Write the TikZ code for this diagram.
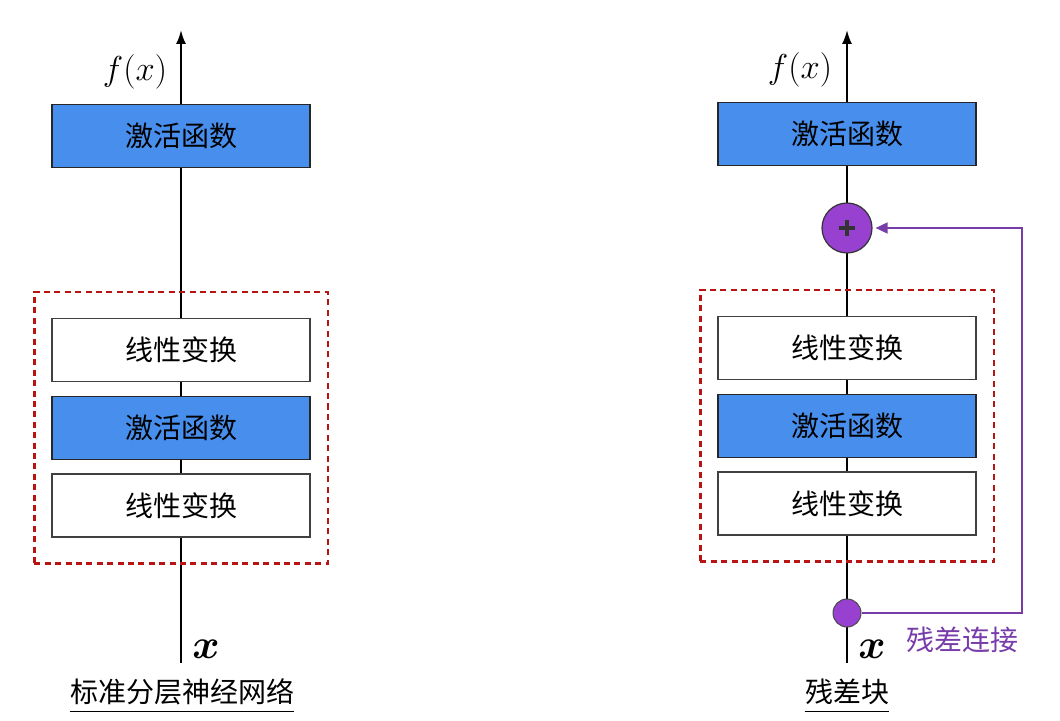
\documentclass[tikz,border=0pt]{standalone}
\usepackage{fontspec}
\usepackage{amsmath}
\newfontfamily\cjk{Noto Sans CJK SC}
\usetikzlibrary{positioning,arrows.meta,fit,backgrounds,calc}
\definecolor{actblue}{RGB}{72,142,236}
\definecolor{sumpurple}{RGB}{152,64,208}
\definecolor{skippurple}{RGB}{120,60,170}
\definecolor{framered}{RGB}{185,20,20}

\begin{document}
\begin{tikzpicture}[
  x=0.5pt,y=-0.5pt,
  font=\cjk\fontsize{14pt}{16pt}\selectfont,
  node distance=6.75pt,
  box/.style={rectangle,draw=black!75,line width=0.6pt,fill=white,
              minimum width=129pt,minimum height=31.5pt,inner sep=2pt},
  act/.style={box,fill=actblue,draw=black!85},
  dashframe/.style={draw=framered,line width=1.1pt,dash pattern=on 3pt off 2.2pt,
                    inner xsep=8.5pt,inner ysep=13pt},
  flow/.style={-{Latex[length=7pt,width=5pt]},line width=1pt},
  sumnode/.style={circle,draw=black!80,line width=0.6pt,fill=sumpurple,
                  minimum size=25pt,inner sep=0pt,
                  path picture={\draw[line width=1.6pt]
                    ($(path picture bounding box.center)+(-4pt,0)$) -- ++(8pt,0)
                    ($(path picture bounding box.center)+(0,-4pt)$) -- ++(0,8pt);}},
  tapdot/.style={circle,draw=black!70,line width=0.5pt,fill=sumpurple,
                 minimum size=14pt,inner sep=0pt},
  skiparr/.style={skippurple,line width=0.8pt,-{Triangle[length=6pt,width=5.5pt]}},
  fxlbl/.style={font=\fontsize{17pt}{19pt}\selectfont},
  xlbl/.style={font=\fontsize{20pt}{22pt}\selectfont},
  capnode/.style={inner xsep=0pt,inner ysep=3pt},
]
\useasboundingbox (0,0) rectangle (1060,721);

% ---------- left: standard layered network ----------
\node[act] (actL) at (181,136) {激活函数};
\node[box] (linL1) at (181,350) {线性变换};
\node[act,below=of linL1] (actL2) {激活函数};
\node[box,below=of actL2] (linL2) {线性变换};
\node[dashframe,fit=(linL1)(linL2)] (blockL) {};
\coordinate (inL) at (181,663);
\coordinate (outL) at (181,30);
\begin{scope}[on background layer]
\draw[flow] (inL) -- (outL);
\end{scope}
\node[fxlbl] (fL) at (135,72) {$f(x)$};
\node[xlbl] (xL) at (206,649) {$\boldsymbol{x}$};
\node[capnode] (capL) at (182,692) {标准分层神经网络};
\draw[thin] (capL.south west) -- (capL.south east);

% ---------- right: residual block ----------
\begin{scope}[xshift=333pt]
\node[act] (actR) at (181,134) {激活函数};
\node[sumnode] (sumR) at (181,228) {};
\node[box] (linR1) at (181,348) {线性变换};
\node[act,below=of linR1] (actR2) {激活函数};
\node[box,below=of actR2] (linR2) {线性变换};
\node[dashframe,fit=(linR1)(linR2)] (blockR) {};
\node[tapdot] (tapR) at (181,613) {};
\coordinate (inR) at (181,663);
\coordinate (outR) at (181,30);
\coordinate (skipX) at (356,0);
\begin{scope}[on background layer]
\draw[flow] (inR) -- (outR);
\end{scope}
\draw[skiparr,shorten >=1.5pt] (tapR.east) -| (skipX |- sumR.east) -- (sumR.east);
\node[fxlbl] (fR) at (134,70) {$f(x)$};
\node[xlbl] (xR) at (206,649) {$\boldsymbol{x}$};
\node[text=skippurple] (skipLbl) at (296,640) {残差连接};
\node[capnode] (capR) at (181,692) {残差块};
\draw[thin] (capR.south west) -- (capR.south east);
\end{scope}
\end{tikzpicture}
\end{document}
